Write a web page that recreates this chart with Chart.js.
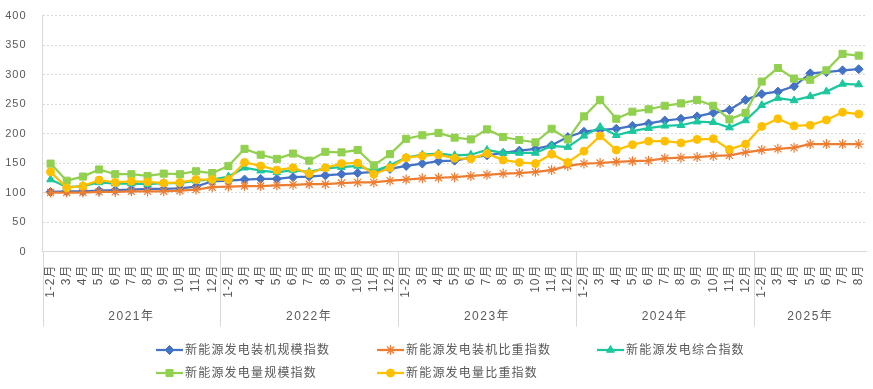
<!DOCTYPE html>
<html>
<head>
<meta charset="utf-8">
<script src="https://cdn.jsdelivr.net/npm/chart.js@4/dist/chart.umd.min.js"></script>
<style>
  html, body { margin: 0; padding: 0; background: #fff; }
  #wrap { width: 873px; height: 389px; position: relative; }
</style>
</head>
<body>
<div id="wrap"><canvas id="chart"></canvas></div>
<script>
// category axis: years and the months shown for each year
const years = ['2021年', '2022年', '2023年', '2024年', '2025年'];
const monthsFull = ['1-2月', '3月', '4月', '5月', '6月', '7月', '8月', '9月', '10月', '11月', '12月'];
const monthsLast = ['1-2月', '3月', '4月', '5月', '6月', '7月', '8月'];
const monthsByYear = [monthsFull, monthsFull, monthsFull, monthsFull, monthsLast];

// series values
const installScale = [101, 102, 102, 103, 104, 105, 106, 106, 107, 110, 119, 120, 122,
  123, 123, 126, 127, 129, 131, 133, 135, 140, 145, 149, 153,
  154, 159, 163, 167, 171, 174, 180, 194, 203, 206, 208, 213,
  217, 222, 225, 229, 235, 240, 257, 267, 271, 280, 302, 304, 307, 309];
const installShare = [100, 100, 100, 101, 101, 102, 102, 102, 103, 105, 109, 110, 111,
  111, 112, 113, 114, 114, 116, 117, 117, 120, 122, 124, 125,
  126, 128, 130, 132, 133, 135, 138, 145, 149, 150, 152, 153, 154,
  158, 159, 160, 162, 163, 168, 172, 174, 176, 182, 182, 182, 182];
const composite = [122, 109, 111, 117, 115, 115, 114, 116, 116, 120, 122, 127, 142,
  137, 134, 138, 135, 141, 143, 145, 136, 146, 159, 164, 166,
  163, 164, 172, 167, 167, 167, 179, 177, 196, 211, 197, 204, 209,
  213, 214, 220, 219, 210, 222, 248, 260, 256, 263, 271, 284, 283];
const genScale = [149, 120, 127, 139, 131, 131, 128, 132, 131, 136, 133, 145, 174,
  164, 157, 166, 154, 169, 168, 172, 146, 165, 191, 197, 201,
  193, 190, 207, 194, 189, 185, 208, 190, 229, 257, 225, 237, 241,
  247, 251, 257, 247, 224, 235, 288, 311, 293, 291, 307, 335, 332];
const genShare = [135, 108, 111, 121, 117, 119, 118, 116, 117, 122, 122, 122, 151,
  145, 138, 142, 132, 142, 149, 150, 131, 142, 159, 162, 164,
  158, 157, 166, 155, 151, 149, 165, 151, 170, 196, 172, 181, 187,
  187, 184, 190, 191, 173, 182, 212, 225, 213, 214, 223, 236, 233];

const labels = monthsByYear.flat();
const textColor = '#595959';
const lineGray = '#d9d9d9';
const fontFamily = "'Liberation Sans', 'Noto Sans CJK SC', sans-serif";

function series(label, data, color, pointStyle, radius, order) {
  return {
    label, data, order,
    borderColor: color,
    backgroundColor: color,
    pointBackgroundColor: color,
    pointBorderColor: color,
    borderWidth: 2.25,
    pointStyle,
    pointRadius: radius,
    pointBorderWidth: pointStyle === 'star' ? 1.2 : 1,
    tension: 0
  };
}

const datasets = [
  series('新能源发电装机规模指数', installScale, '#4472C4', 'rectRot', 4.5, 5),
  series('新能源发电装机比重指数', installShare, '#ED7D31', 'star', 5, 4),
  series('新能源发电综合指数', composite, '#1CC79F', 'triangle', 4.5, 3),
  series('新能源发电量规模指数', genScale, '#92D050', 'rect', 5, 2),
  series('新能源发电量比重指数', genShare, '#FFC000', 'circle', 4, 1)
];

// spaced-out axis text, as in the original
const spacedText = {
  id: 'spacedText',
  beforeDraw(chart) { chart.ctx.letterSpacing = '1px'; },
  beforeDatasetsDraw(chart) { chart.ctx.letterSpacing = '0px'; }
};

// year row under the month labels, with separators between years
const yearAxis = {
  id: 'yearAxis',
  afterDraw(chart) {
    const { ctx, chartArea } = chart;
    const x = chart.scales.x;
    const bottom = chartArea.bottom;
    ctx.save();
    ctx.strokeStyle = lineGray;
    ctx.lineWidth = 1;
    ctx.fillStyle = textColor;
    ctx.font = '12px ' + fontFamily;
    ctx.letterSpacing = '1.5px';
    ctx.textAlign = 'center';
    ctx.textBaseline = 'middle';
    let start = 0;
    years.forEach((yr, gi) => {
      const n = monthsByYear[gi].length;
      const end = start + n - 1;
      const sep = start === 0 ? chartArea.left
        : (x.getPixelForTick(start - 1) + x.getPixelForTick(start)) / 2;
      const px = Math.round(sep) + 0.5;
      ctx.beginPath();
      ctx.moveTo(px, bottom);
      ctx.lineTo(px, bottom + 75);
      ctx.stroke();
      const cx = (x.getPixelForTick(start) + x.getPixelForTick(end)) / 2;
      ctx.fillText(yr, cx, bottom + 65.5);
      start += n;
    });
    ctx.restore();
  }
};

// legend laid out on a grid like the original
const gridLegend = {
  id: 'gridLegend',
  afterDraw(chart) {
    const { ctx } = chart;
    const cols = [156, 377, 597];
    const rows = [350, 373];
    ctx.save();
    chart.data.datasets.forEach((ds, i) => {
      const x0 = cols[i % 3];
      const y = rows[Math.floor(i / 3)];
      ctx.strokeStyle = ds.borderColor;
      ctx.lineWidth = 2.25;
      ctx.beginPath();
      ctx.moveTo(x0, y);
      ctx.lineTo(x0 + 27, y);
      ctx.stroke();
      ctx.fillStyle = ds.pointBackgroundColor;
      ctx.strokeStyle = ds.pointBorderColor;
      ctx.lineWidth = ds.pointBorderWidth;
      Chart.helpers.drawPoint(ctx, {
        pointStyle: ds.pointStyle,
        radius: ds.pointRadius,
        rotation: 0,
        borderWidth: ds.pointBorderWidth
      }, x0 + 13.5, y);
      ctx.fillStyle = textColor;
      ctx.font = '12px ' + fontFamily;
      ctx.letterSpacing = '1.2px';
      ctx.textAlign = 'left';
      ctx.textBaseline = 'middle';
      ctx.fillText(ds.label, x0 + 29, y + 0.5);
    });
    ctx.restore();
  }
};

new Chart(document.getElementById('chart'), {
  type: 'line',
  data: { labels, datasets },
  options: {
    responsive: true,
    maintainAspectRatio: false,
    animation: false,
    layout: { padding: { top: 15.5, left: 0, right: 2, bottom: 0 } },
    plugins: {
      legend: { display: false },
      tooltip: { enabled: false }
    },
    scales: {
      x: {
        offset: true,
        grid: {
          display: true,
          drawOnChartArea: false,
          drawTicks: true,
          tickLength: 13,
          color: 'rgba(0,0,0,0)'
        },
        border: { display: true, color: lineGray, width: 1 },
        ticks: {
          color: textColor,
          font: { family: fontFamily, size: 12 },
          minRotation: 90,
          maxRotation: 90,
          autoSkip: false,
          padding: 0
        },
        afterFit: s => {
          s.height = 137.5;
          s.paddingLeft = 0;
          s.paddingRight = 0;
        }
      },
      y: {
        min: 0,
        max: 400,
        ticks: {
          stepSize: 50,
          color: textColor,
          font: { family: fontFamily, size: 11 },
          padding: 16
        },
        grid: { color: lineGray, drawTicks: false, lineWidth: 1 },
        border: { display: true, color: lineGray, width: 1, dash: [2, 2] },
        afterFit: s => {
          s.width = 42.5;
          s.paddingTop = 0;
          s.paddingBottom = 0;
        }
      }
    }
  },
  plugins: [spacedText, yearAxis, gridLegend]
});
</script>
</body>
</html>
